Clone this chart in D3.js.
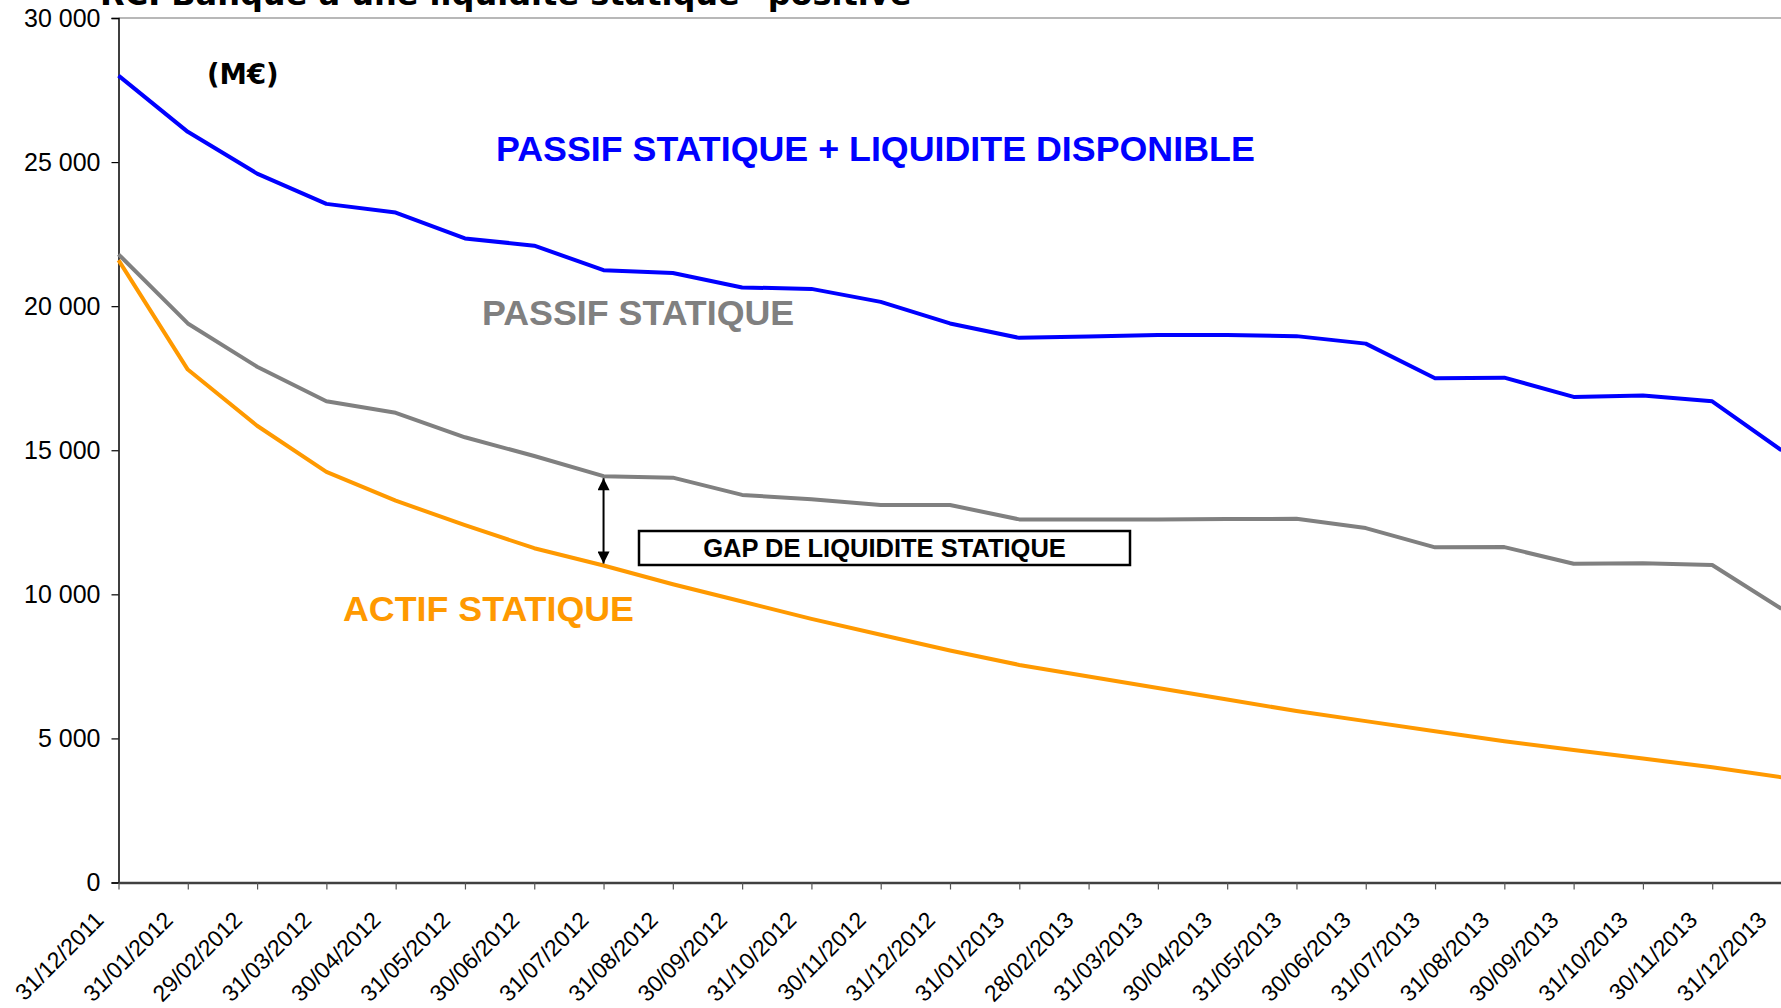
<!DOCTYPE html>
<html>
<head>
<meta charset="utf-8">
<script src="https://cdn.jsdelivr.net/npm/d3@7"></script>
<style>
  body { margin: 0; background: #fff; }
  svg { display: block; }
</style>
</head>
<body>
<div id="vis"></div>
<script>
// month-end dates (category axis)
const dates = [
  "31/12/2011", "31/01/2012", "29/02/2012", "31/03/2012", "30/04/2012",
  "31/05/2012", "30/06/2012", "31/07/2012", "31/08/2012", "30/09/2012",
  "31/10/2012", "30/11/2012", "31/12/2012", "31/01/2013", "28/02/2013",
  "31/03/2013", "30/04/2013", "31/05/2013", "30/06/2013", "31/07/2013",
  "31/08/2013", "30/09/2013", "31/10/2013", "30/11/2013", "31/12/2013"
];

// M€
const passifLiquidite = [
  28000, 26050, 24600, 23550, 23250, 22350, 22100, 21250, 21150, 20650,
  20600, 20150, 19400, 18900, 18950, 19000, 19000, 18960, 18700, 17500,
  17520, 16850, 16900, 16700, 15000
];
const passifStatique = [
  21800, 19400, 17900, 16700, 16300, 15450, 14800, 14100, 14050, 13450,
  13300, 13100, 13100, 12600, 12600, 12600, 12610, 12620, 12300, 11630,
  11640, 11060, 11075, 11020, 9500
];
const actifStatique = [
  21600, 17800, 15850, 14250, 13250, 12400, 11600, 11000, 10350, 9750,
  9150, 8600, 8050, 7550, 7150, 6750, 6350, 5950, 5600, 5250,
  4900, 4600, 4300, 4000, 3650
];

const yTicks = [0, 5000, 10000, 15000, 20000, 25000, 30000];

const gapDate = "31/07/2012";

const width = 1781, height = 1008;
const margin = { top: 18, right: 0, bottom: 125.5, left: 118.5 };

const svg = d3.select("#vis").append("svg")
  .attr("width", width)
  .attr("height", height);

const x = d3.scalePoint()
  .domain(dates)
  .range([margin.left, width + 0.5]);

const y = d3.scaleLinear()
  .domain([0, 30000])
  .range([height - margin.bottom, margin.top]);

const fr = d3.formatLocale({ decimal: ",", thousands: " ", grouping: [3], currency: ["", " €"] });
const fmt = fr.format(",d");

// top border of the plot area
svg.append("line")
  .attr("x1", margin.left).attr("x2", width)
  .attr("y1", y(30000)).attr("y2", y(30000))
  .attr("stroke", "#a0a0a0")
  .attr("stroke-width", 1.5);

// y axis
const yAxis = svg.append("g")
  .attr("transform", `translate(${margin.left},0)`)
  .call(d3.axisLeft(y).tickValues(yTicks).tickFormat(fmt).tickSize(7).tickPadding(11));
yAxis.select(".domain").attr("stroke", "#000").attr("stroke-width", 1.5);
yAxis.selectAll(".tick line").attr("stroke", "#000").attr("stroke-width", 1.2);
yAxis.selectAll("text")
  .attr("font-family", "'Liberation Sans', Arial, sans-serif")
  .attr("font-size", 25)
  .attr("fill", "#000");

// x axis
const xAxis = svg.append("g")
  .attr("transform", `translate(0,${y(0)})`)
  .call(d3.axisBottom(x).tickSize(7).tickSizeOuter(0));
xAxis.select(".domain").attr("stroke", "#404040").attr("stroke-width", 2.5);
xAxis.selectAll(".tick line").attr("stroke", "#555").attr("stroke-width", 1.2);
xAxis.selectAll("text")
  .attr("font-family", "'Liberation Sans', Arial, sans-serif")
  .attr("font-size", 23)
  .attr("fill", "#000")
  .attr("text-anchor", "end")
  .attr("dy", null)
  .attr("y", 0)
  .attr("transform", "translate(-14,39) rotate(-45)");

// series
const line = d3.line()
  .x((d, i) => x(dates[i]))
  .y((d) => y(d));

const series = [
  { name: "actif", values: actifStatique, color: "#ff9900" },
  { name: "passif", values: passifStatique, color: "#808080" },
  { name: "passifLiq", values: passifLiquidite, color: "#0000ff" }
];

svg.append("g")
  .selectAll("path")
  .data(series)
  .join("path")
  .attr("fill", "none")
  .attr("stroke", (d) => d.color)
  .attr("stroke-width", 4)
  .attr("stroke-linejoin", "round")
  .attr("d", (d) => line(d.values));

// gap arrow
const defs = svg.append("defs");
defs.append("marker")
  .attr("id", "arrow")
  .attr("viewBox", "0 0 10 10")
  .attr("refX", 10).attr("refY", 5)
  .attr("markerWidth", 13).attr("markerHeight", 12)
  .attr("markerUnits", "userSpaceOnUse")
  .attr("orient", "auto-start-reverse")
  .append("path")
  .attr("d", "M0,0L10,5L0,10Z")
  .attr("fill", "#000");

const gi = dates.indexOf(gapDate);
svg.append("line")
  .attr("x1", x(gapDate)).attr("x2", x(gapDate))
  .attr("y1", y(passifStatique[gi]) + 2)
  .attr("y2", y(actifStatique[gi]) - 2)
  .attr("stroke", "#000")
  .attr("stroke-width", 2)
  .attr("marker-start", "url(#arrow)")
  .attr("marker-end", "url(#arrow)");

// gap box
svg.append("rect")
  .attr("x", 639).attr("y", 531)
  .attr("width", 491).attr("height", 34)
  .attr("fill", "#fff")
  .attr("stroke", "#000")
  .attr("stroke-width", 2.5);
svg.append("text")
  .attr("x", 884.5).attr("y", 557)
  .attr("text-anchor", "middle")
  .attr("font-family", "'Liberation Sans', Arial, sans-serif")
  .attr("font-weight", "bold")
  .attr("font-size", 25.5)
  .text("GAP DE LIQUIDITE STATIQUE");

// series labels
const labels = [
  { text: "PASSIF STATIQUE + LIQUIDITE DISPONIBLE", x: 496, y: 161, color: "#0000ff" },
  { text: "PASSIF STATIQUE", x: 482, y: 325, color: "#808080" },
  { text: "ACTIF STATIQUE", x: 343, y: 621, color: "#ff9900" }
];
svg.append("g")
  .attr("font-family", "'Liberation Sans', Arial, sans-serif")
  .attr("font-weight", "bold")
  .attr("font-size", 35.8)
  .selectAll("text")
  .data(labels)
  .join("text")
  .attr("x", (d) => d.x)
  .attr("y", (d) => d.y)
  .attr("fill", (d) => d.color)
  .text((d) => d.text);

// unit
svg.append("text")
  .attr("x", 207).attr("y", 84)
  .attr("font-family", "'DejaVu Sans', Verdana, sans-serif")
  .attr("font-weight", "bold")
  .attr("font-size", 27.5)
  .text("(M€)");

// title, cut at the top edge
svg.append("text")
  .attr("x", 100).attr("y", 5)
  .attr("font-family", "'DejaVu Sans', Verdana, sans-serif")
  .attr("font-weight", "bold")
  .attr("font-size", 32)
  .text("RCI Banque a une liquidité statique \"positive\"");
</script>
</body>
</html>
